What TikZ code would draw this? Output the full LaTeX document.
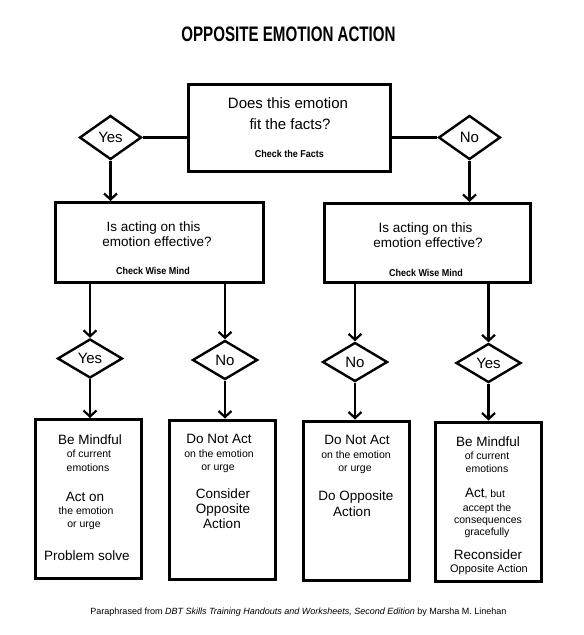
\documentclass[tikz,border=0pt]{standalone}
\usepackage{fontspec}
\setmainfont{Liberation Sans}
\newfontfamily\titlefont[FakeStretch=0.72]{Liberation Sans Bold}
\newfontfamily\chkfont[FakeStretch=0.9]{Liberation Sans Bold}
\usetikzlibrary{shapes.geometric,arrows.meta}
\newcommand\fsz[1]{\fontsize{#1}{#1}\selectfont}
\begin{document}
\begin{tikzpicture}[x=1pt,y=-1pt,
  box/.style={draw,line width=3pt,inner sep=0pt},
  dia/.style={diamond,draw,line width=2.4pt,inner sep=0pt,fill=white,font=\fsz{15}},
  conn/.style={line width=2.2pt},
  arr/.style={conn,-{Straight Barb[length=6pt,width=13pt]}},
  tx/.style={anchor=base,inner sep=0pt},
  big/.style={tx,font=\fsz{13.5}},
  sml/.style={tx,font=\fsz{10.5}},
  chk/.style={tx,font=\chkfont\fsz{10}}]
\useasboundingbox (0,0) rectangle (584,635);
\fill[white] (0,0) rectangle (584,635);

% title
\node[tx,font=\titlefont\fsz{21}] (title) at (288.5,41.5) {OPPOSITE EMOTION ACTION};

% top box
\node[box,minimum width=202pt,minimum height=87pt] (top) at (289.5,128) {};
\node[tx,font=\fsz{15}] (ta) at (288,108.5) {Does this emotion};
\node[tx,font=\fsz{15}] (tb) at (290,129) {fit the facts?};
\node[chk] (tc) at (289.5,157.5) {Check the Facts};

% top diamonds
\node[dia,minimum width=62pt,minimum height=44pt] (dyes) at (110.5,137.5) {Yes};
\node[dia,minimum width=62pt,minimum height=44pt] (dno) at (469.5,137.5) {No};

% middle boxes
\node[box,minimum width=208pt,minimum height=80pt] (ml) at (159.5,242.5) {};
\node[big] (mla) at (153.5,231) {Is acting on this};
\node[big] (mlb) at (157,246) {emotion effective?};
\node[chk] (mlc) at (153,274.5) {Check Wise Mind};

\node[box,minimum width=206pt,minimum height=79pt] (mr) at (427.5,243) {};
\node[big] (mra) at (425.5,232) {Is acting on this};
\node[big] (mrb) at (428,247) {emotion effective?};
\node[chk] (mrc) at (426,276.5) {Check Wise Mind};

% bottom diamonds
\node[dia,minimum width=65pt,minimum height=39pt] (d1) at (90,358.5) {Yes};
\node[dia,minimum width=65pt,minimum height=39pt] (d2) at (225,360) {No};
\node[dia,minimum width=65pt,minimum height=39pt] (d3) at (355,362) {No};
\node[dia,minimum width=65pt,minimum height=39pt] (d4) at (488.5,363) {Yes};

% bottom boxes
\node[box,minimum width=106pt,minimum height=159pt] (b1) at (88.5,499) {};
\node[box,minimum width=106pt,minimum height=159pt] (b2) at (222,499.5) {};
\node[box,minimum width=106pt,minimum height=159pt] (b3) at (356.5,500.5) {};
\node[box,minimum width=106pt,minimum height=159pt] (b4) at (488.5,501.5) {};

% box 1 text
\node[big] (b1a) at (90,444) {Be Mindful};
\node[sml] (b1b) at (89,457.5) {of current};
\node[sml] (b1c) at (88,471) {emotions};
\node[big] (b1d) at (85,501) {Act on};
\node[sml] (b1e) at (86,514) {the emotion};
\node[sml] (b1f) at (84,527.5) {or urge};
\node[big] (b1g) at (87,560) {Problem solve};

% box 2 text
\node[big] (b2a) at (219,443) {Do Not Act};
\node[sml] (b2b) at (219,457) {on the emotion};
\node[sml] (b2c) at (218,470.5) {or urge};
\node[big] (b2d) at (223,498) {Consider};
\node[big] (b2e) at (223,513) {Opposite};
\node[big] (b2f) at (222,528) {Action};

% box 3 text
\node[big] (b3a) at (357,444) {Do Not Act};
\node[sml] (b3b) at (356,458) {on the emotion};
\node[sml] (b3c) at (355,471.5) {or urge};
\node[big] (b3d) at (356,500) {Do Opposite};
\node[big] (b3e) at (352,516) {Action};

% box 4 text
\node[big] (b4a) at (488,446) {Be Mindful};
\node[sml] (b4b) at (487,459.5) {of current};
\node[sml] (b4c) at (487,472.5) {emotions};
\node[tx] (b4d) at (485,497) {\fsz{13.5}Act\fsz{10.5}, but};
\node[sml] (b4e) at (487,511) {accept the};
\node[sml] (b4f) at (488,523.5) {consequences};
\node[sml] (b4g) at (487,535.5) {gracefully};
\node[big] (b4h) at (488,559) {Reconsider};
\node[tx,font=\fsz{11}] (b4i) at (489,572) {Opposite Action};

% footer
\node[tx,font=\fsz{9}] (foot) at (298.5,614) {Paraphrased from \textit{DBT Skills Training Handouts and Worksheets, Second Edition} by Marsha M. Linehan};

% connectors
\draw[conn] (dyes.east) -- (dyes.east -| top.west);
\draw[conn] (dno.west -| top.east) -- (dno.west);
\draw[arr] (dyes.south) -- (dyes.south |- ml.north);
\draw[arr] (dno.south) -- (dno.south |- mr.north);
\draw[arr] (d1.north |- ml.south) -- (d1.north);
\draw[arr] (d2.north |- ml.south) -- (d2.north);
\draw[arr] (d3.north |- mr.south) -- (d3.north);
\draw[arr] (d4.north |- mr.south) -- (d4.north);
\draw[arr] (d1.south) -- (d1.south |- b1.north);
\draw[arr] (d2.south) -- (d2.south |- b2.north);
\draw[arr] (d3.south) -- (d3.south |- b3.north);
\draw[arr] (d4.south) -- (d4.south |- b4.north);
\end{tikzpicture}
\end{document}
